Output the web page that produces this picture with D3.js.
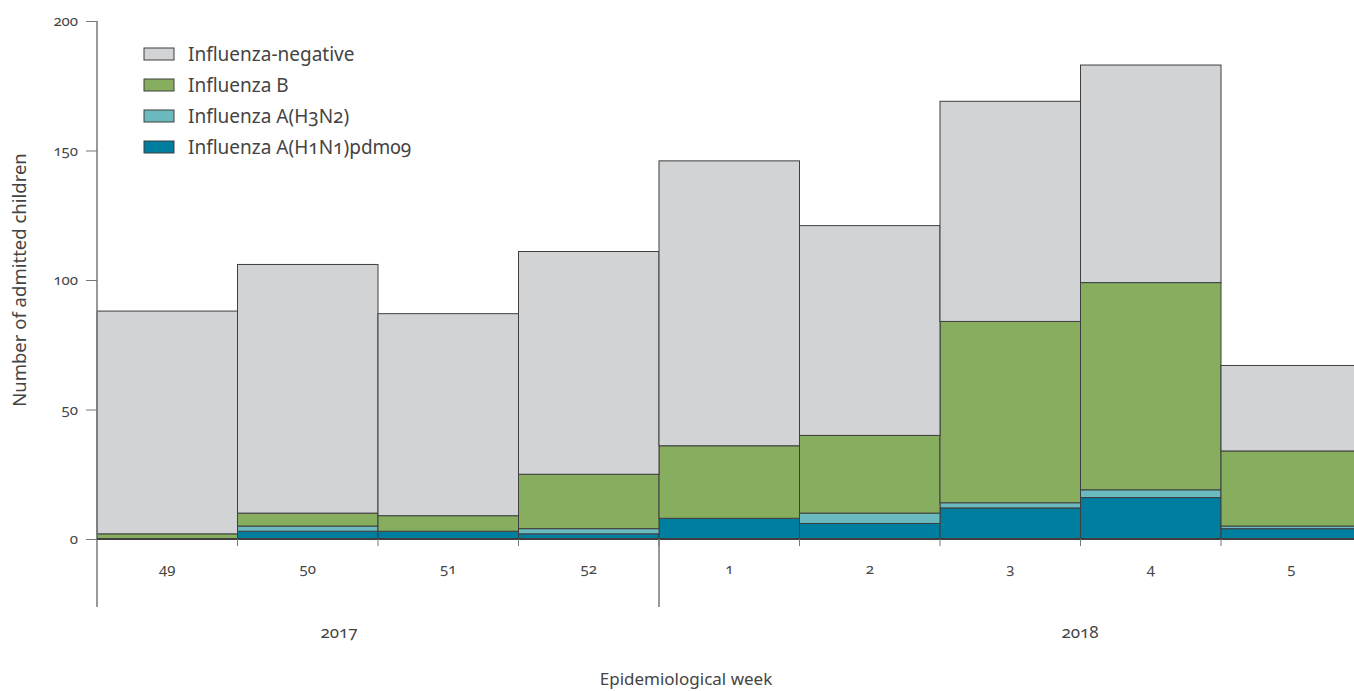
<!DOCTYPE html>
<meta charset="utf-8">

<!-- Load d3.js -->
<script src="https://d3js.org/d3.v7.min.js"></script>

<style>
  body { margin: 0; background: #fff; }
  svg text { font-family: "Noto Sans", "Open Sans", sans-serif; font-variant-numeric: oldstyle-nums; fill: #444; }
</style>

<div id="chart"></div>

<script>
const width = 1354;
const height = 691;

// Data
const weeks = ["49", "50", "51", "52", "1", "2", "3", "4", "5"];
const years = ["2017", "2017", "2017", "2017", "2018", "2018", "2018", "2018", "2018"];
const h1n1 = [0, 3, 3, 2, 8, 6, 12, 16, 4];
const h3n2 = [0, 2, 0, 2, 0, 4, 2, 3, 1];
const fluB = [2, 5, 6, 21, 28, 30, 70, 80, 29];
const negative = [86, 96, 78, 86, 110, 81, 85, 84, 33];
const yTicks = [0, 50, 100, 150, 200];

const seriesKeys = ["h1n1", "h3n2", "b", "neg"];
const seriesNames = {
  neg: "Influenza-negative",
  b: "Influenza B",
  h3n2: "Influenza A(H3N2)",
  h1n1: "Influenza A(H1N1)pdm09"
};
const colors = { neg: "#d1d3d4", b: "#87ad5f", h3n2: "#6abac0", h1n1: "#007ea0" };

const table = weeks.map((w, i) => ({
  key: i, week: w, year: years[i],
  h1n1: h1n1[i], h3n2: h3n2[i], b: fluB[i], neg: negative[i]
}));

const svg = d3.select("#chart")
  .append("svg")
    .attr("width", width)
    .attr("height", height);

const margin = { left: 97, top: 21, bottom: 539 };
const barW = 140.5;

const x = d3.scaleBand()
  .domain(table.map(d => d.key))
  .range([margin.left, margin.left + barW * weeks.length])
  .padding(0);

const y = d3.scaleLinear()
  .domain([0, 200])
  .range([margin.bottom, margin.top]);

// Stacked bars
const stack = d3.stack().keys(seriesKeys)(table);

svg.append("g")
  .selectAll("g")
  .data(stack)
  .join("g")
    .attr("fill", s => colors[s.key])
  .selectAll("rect")
  .data(s => s)
  .join("rect")
    .attr("x", d => x(d.data.key))
    .attr("width", x.bandwidth())
    .attr("y", d => y(d[1]))
    .attr("height", d => y(d[0]) - y(d[1]))
    .attr("stroke", "#3f3f3f")
    .attr("stroke-width", 1);

// Y axis
const yAxis = svg.append("g")
  .attr("transform", `translate(${margin.left},0)`)
  .call(d3.axisLeft(y).tickValues(yTicks).tickSize(11).tickPadding(8));
yAxis.select(".domain").remove();
yAxis.selectAll(".tick line").attr("stroke", "#777");
yAxis.selectAll(".tick text")
  .attr("font-size", 15)
  .style("fill", "#444");

svg.append("line")
  .attr("x1", margin.left).attr("x2", margin.left)
  .attr("y1", margin.top).attr("y2", 607)
  .attr("stroke", "#777").attr("stroke-width", 1.5);

// Baseline
svg.append("line")
  .attr("x1", margin.left).attr("x2", width)
  .attr("y1", y(0)).attr("y2", y(0))
  .attr("stroke", "#3f3f3f").attr("stroke-width", 2);

// Week ticks and labels
const bounds = d3.range(1, weeks.length).map(i => margin.left + barW * i);
svg.append("g")
  .selectAll("line")
  .data(bounds)
  .join("line")
    .attr("x1", d => d).attr("x2", d => d)
    .attr("y1", y(0)).attr("y2", y(0) + 7)
    .attr("stroke", "#777");

svg.append("g")
  .selectAll("text")
  .data(table)
  .join("text")
    .attr("x", d => x(d.key) + x.bandwidth() / 2)
    .attr("y", 574)
    .attr("text-anchor", "middle")
    .attr("font-size", 15)
    .text(d => d.week);

// Year groups
const yearGroups = d3.groups(table, d => d.year).map(([yr]) => ({ year: yr }));

// separator at 2017/2018 boundary
svg.append("line")
  .attr("x1", x(4)).attr("x2", x(4))
  .attr("y1", y(0)).attr("y2", 607)
  .attr("stroke", "#777").attr("stroke-width", 1.5);

svg.append("g")
  .selectAll("text")
  .data(yearGroups)
  .join("text")
    .attr("x", (d, i) => i === 0 ? 339 : 1080)
    .attr("y", 638)
    .attr("text-anchor", "middle")
    .attr("font-size", 17)
    .text(d => d.year);

// Axis titles
svg.append("text")
  .attr("x", 686)
  .attr("y", 685)
  .attr("text-anchor", "middle")
  .attr("font-size", 17)
  .text("Epidemiological week");

svg.append("text")
  .attr("transform", "translate(26,280) rotate(-90)")
  .attr("text-anchor", "middle")
  .attr("font-size", 18.5)
  .text("Number of admitted children");

// Legend
const legendKeys = ["neg", "b", "h3n2", "h1n1"];
const legend = svg.append("g")
  .selectAll("g")
  .data(legendKeys)
  .join("g")
    .attr("transform", (d, i) => `translate(144,${54 + i * 31})`);

legend.append("rect")
  .attr("x", 0).attr("y", -6)
  .attr("width", 30).attr("height", 12)
  .attr("fill", d => colors[d])
  .attr("stroke", "#3f3f3f")
  .attr("stroke-width", 1);

legend.append("text")
  .attr("x", 44)
  .attr("y", 6.5)
  .attr("font-size", 19)
  .text(d => seriesNames[d]);
</script>
